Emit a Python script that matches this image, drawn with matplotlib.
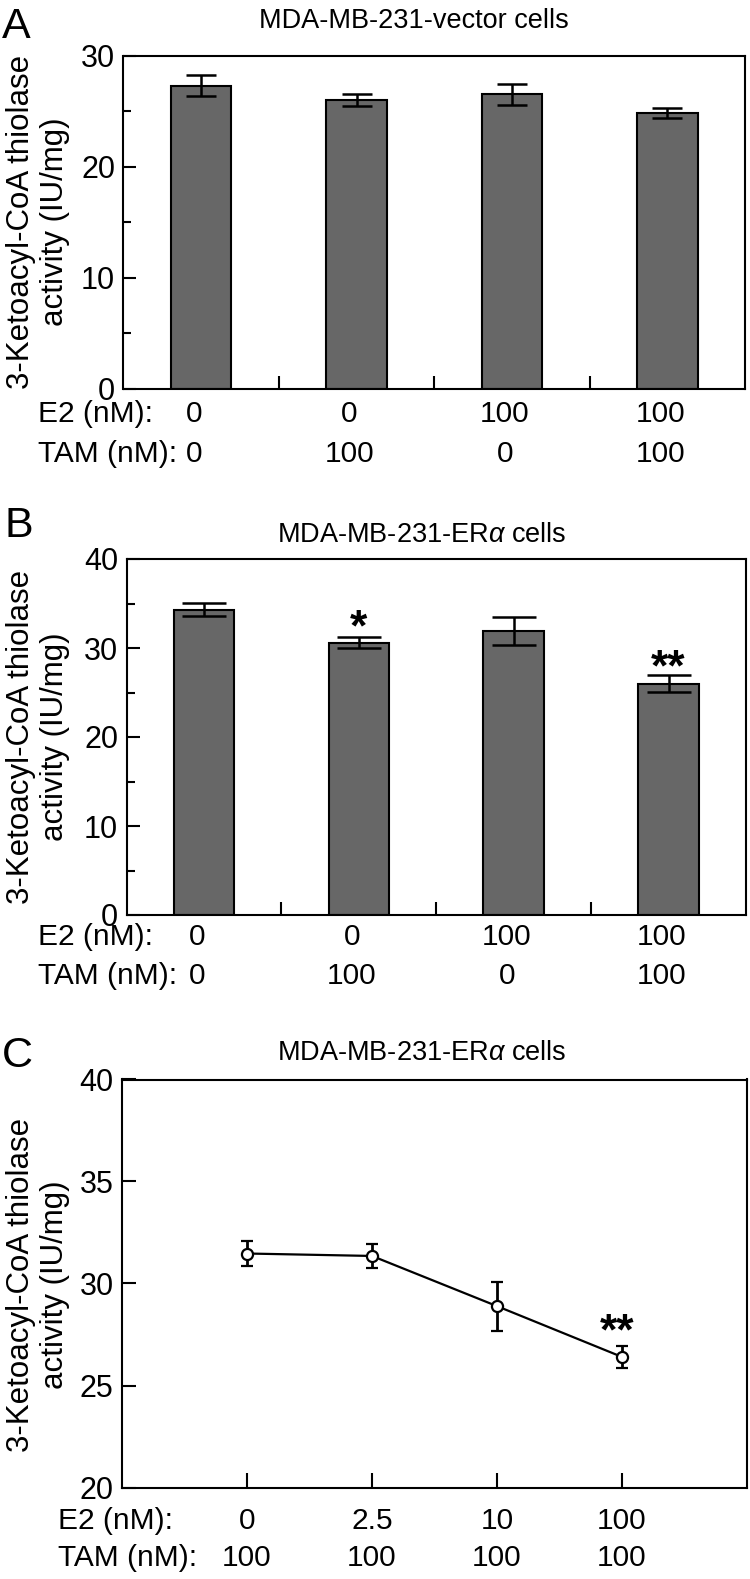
import matplotlib.pyplot as plt
import matplotlib.transforms as mtransforms
import numpy as np

plt.rcParams['font.family'] = ['Liberation Sans', 'DejaVu Sans']
plt.rcParams['mathtext.fontset'] = 'custom'
plt.rcParams['mathtext.rm'] = 'Liberation Sans'
plt.rcParams['mathtext.it'] = 'Liberation Sans:italic'

# data
ylabel = '3-Ketoacyl-CoA thiolase\nactivity (IU/mg)'
e2_bar = ['0', '0', '100', '100']
tam_bar = ['0', '100', '0', '100']
vec_mean = [27.3, 26.0, 26.5, 24.8]
vec_err = [0.95, 0.5, 0.95, 0.45]
era_mean = [34.3, 30.6, 31.9, 26.0]
era_err = [0.75, 0.6, 1.55, 0.95]
era_sig = ['', '*', '', '**']
era_sig_y = [0, 33.6, 0, 29.2]
e2_dose = ['0', '2.5', '10', '100']
tam_dose = ['100', '100', '100', '100']
dose_mean = [31.47, 31.35, 28.89, 26.4]
dose_err = [0.6, 0.58, 1.2, 0.55]
dose_sig = ['', '', '', '**']
dose_sig_y = [0, 0, 0, 28.23]

W, H = 750, 1579
fig = plt.figure(figsize=(W / 100, H / 100), dpi=100)


def box(l, t, r, b):
    return [l / W, 1 - b / H, (r - l) / W, (b - t) / H]


def style_axes(ax):
    for sp in ax.spines.values():
        sp.set_linewidth(1.5)
    ax.tick_params(axis='both', which='both', direction='in', width=1.5,
                   labelsize=22, pad=6)
    ax.tick_params(axis='y', which='major', length=9.5)
    ax.tick_params(axis='y', which='minor', length=5.8)
    ax.tick_params(axis='x', which='both', labelbottom=False)


def rows(ax, xs, top, bottom, y1, y2, left, dx=0.0):
    trans = mtransforms.blended_transform_factory(ax.transData, fig.transFigure)
    fig.text(left / W, 1 - y1 / H, 'E2 (nM):', fontsize=21.5, va='center', ha='left')
    fig.text(left / W, 1 - y2 / H, 'TAM (nM):', fontsize=21.5, va='center', ha='left')
    for i, x in enumerate(xs):
        ax.text(x + dx, 1 - y1 / H, top[i], transform=trans, fontsize=21.5,
                va='center', ha='center')
        ax.text(x + dx, 1 - y2 / H, bottom[i], transform=trans, fontsize=21.5,
                va='center', ha='center')


def stars(ax, xs, labels, ys, fs=32, dx=0.0):
    for x, s, y in zip(xs, labels, ys):
        if s:
            ax.annotate(s, (x + dx, y), xytext=(0, -0.56 * fs), textcoords='offset points',
                        ha='center', va='baseline', fontsize=fs, fontweight='bold')


def bar_panel(rect, means, errs, ymax, capsize):
    ax = fig.add_axes(box(*rect))
    x = np.arange(len(means))
    ax.bar(x, means, width=0.39, color='#676767', edgecolor='black', linewidth=1.5, zorder=2)
    ax.errorbar(x, means, yerr=errs, fmt='none', ecolor='black', elinewidth=1.8,
                capsize=capsize, capthick=1.8, zorder=3)
    ax.set_xlim(-0.5, len(means) - 0.5)
    ax.set_ylim(0, ymax)
    ax.set_yticks(np.arange(0, ymax + 1, 10))
    ax.set_yticks(np.arange(5, ymax, 10), minor=True)
    ax.set_xticks(np.arange(0.5, len(means) - 0.5, 1.0))
    ax.set_xticks([], minor=True)
    style_axes(ax)
    ax.tick_params(axis='x', length=9.5)
    return ax, x


def ylab(yc):
    fig.text(38 / W, 1 - yc / H, ylabel, fontsize=22.5, rotation=90, ha='center', va='center',
             multialignment='center', linespacing=1.15)


# panel A
axA, xA = bar_panel((123.5, 55.5, 745, 389), vec_mean, vec_err, 30, 10.8)
rows(axA, xA, e2_bar, tam_bar, 414, 454, 38, dx=-0.045)
fig.text(414 / W, 1 - 21.5 / H, 'MDA-MB-231-vector cells', fontsize=19.5, ha='center', va='center')
ylab(222)
fig.text(2 / W, 1 - 38 / H, 'A', fontsize=31, ha='left', va='baseline')

# panel B
axB, xB = bar_panel((126.5, 559, 746, 915), era_mean, era_err, 40, 15.8)
stars(axB, xB, era_sig, era_sig_y)
rows(axB, xB, e2_bar, tam_bar, 937, 976, 38, dx=-0.045)
fig.text(422 / W, 1 - 535.5 / H, r'MDA-MB-231-ER$\alpha$ cells', fontsize=19.5, ha='center', va='center')
ylab(737)
fig.text(4 / W, 1 - 537 / H, 'B', fontsize=31, ha='left', va='baseline')

# panel C
axC = fig.add_axes(box(122, 1079.5, 747, 1487.5))
xC = np.arange(len(dose_mean))
axC.errorbar(xC, dose_mean, yerr=dose_err, fmt='-o', color='black', linewidth=1.6,
             markersize=8, markerfacecolor='white', markeredgecolor='black',
             markeredgewidth=1.6, elinewidth=2, capsize=4.3, capthick=2)
axC.set_xlim(-1, 4)
axC.set_ylim(20, 40)
axC.set_yticks(np.arange(20, 41, 5))
axC.set_xticks(xC)
style_axes(axC)
axC.tick_params(axis='y', length=10)
axC.tick_params(axis='x', length=11)
stars(axC, xC, dose_sig, dose_sig_y, dx=-0.04)
rows(axC, xC, e2_dose, tam_dose, 1521, 1558, 58)
fig.text(422 / W, 1 - 1052.5 / H, r'MDA-MB-231-ER$\alpha$ cells', fontsize=19.5, ha='center', va='center')
ylab(1285)
fig.text(2 / W, 1 - 1067 / H, 'C', fontsize=31, ha='left', va='baseline')

fig.savefig('out.png', dpi=100)
